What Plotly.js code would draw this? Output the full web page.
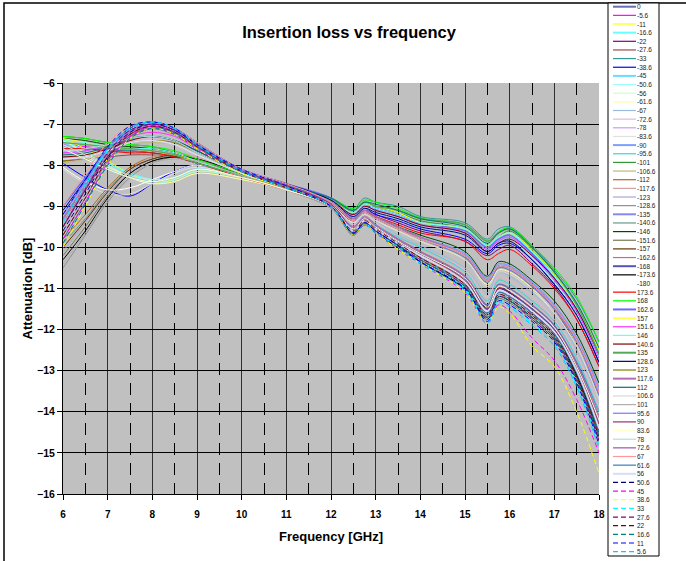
<!DOCTYPE html>
<html><head><meta charset="utf-8">
<script src="https://cdn.plot.ly/plotly-3.0.1.min.js"></script>
<style>html,body{margin:0;padding:0;background:#fff;}#chart{width:686px;height:561px;}</style>
</head><body><div id="chart"></div>
<script>
// Frequency points (GHz)
const freqGHz = [6, 6.5, 7, 7.5, 8, 8.5, 9, 10, 11, 12, 12.5, 12.75, 13, 13.5, 14, 15, 15.5, 15.75, 16, 16.5, 17, 17.5, 18];

// Series names (phase setting)
const angles = ["0","-5.6","-11","-16.6","-22","-27.6","-33","-38.6","-45","-50.6","-56","-61.6","-67","-72.6","-78","-83.6","-90","-95.6","-101","-106.6","-112","-117.6","-123","-128.6","-135","-140.6","-146","-151.6","-157","-162.6","-168","-173.6","-180","173.6","168","162.6","157","151.6","146","140.6","135","128.6","123","117.6","112","106.6","101","95.6","90","83.6","78","72.6","67","61.6","56","50.6","45","38.6","33","27.6","22","16.6","11","5.6"];

// Attenuation [dB] per series, one row per angle, values at freqGHz
const attenuationDB = [
[-9.3,-8.5,-7.7,-7.2,-7.05,-7.2,-7.55,-8.15,-8.5,-8.95,-9.5,-9.25,-9.45,-9.8,-10.1,-10.7,-11.4,-10.9,-11.0,-11.4,-11.9,-12.8,-14.0],
[-7.5,-7.55,-7.6,-7.6,-7.65,-7.75,-7.95,-8.25,-8.5,-8.85,-9.15,-8.95,-9.05,-9.2,-9.4,-9.6,-9.95,-9.8,-9.7,-10.15,-10.75,-11.5,-12.6],
[-7.35,-7.6,-7.9,-8.2,-8.4,-8.35,-8.15,-8.3,-8.55,-8.8,-9.15,-8.95,-9.0,-9.15,-9.4,-9.6,-10.0,-9.8,-9.7,-10.1,-10.7,-11.4,-12.5],
[-7.4,-7.65,-7.95,-8.2,-8.35,-8.3,-8.1,-8.3,-8.55,-8.85,-9.2,-8.95,-9.05,-9.2,-9.4,-9.55,-9.95,-9.75,-9.65,-10.1,-10.7,-11.5,-12.7],
[-7.6,-7.6,-7.65,-7.65,-7.7,-7.8,-7.95,-8.25,-8.55,-8.9,-9.3,-9.1,-9.2,-9.4,-9.6,-9.85,-10.2,-10.05,-9.95,-10.4,-10.95,-11.75,-12.9],
[-7.9,-7.85,-7.8,-7.75,-7.75,-7.8,-7.95,-8.3,-8.6,-8.95,-9.35,-9.15,-9.3,-9.55,-9.75,-10.2,-10.8,-10.45,-10.5,-10.9,-11.5,-12.4,-13.6],
[-7.55,-7.6,-7.6,-7.65,-7.7,-7.8,-7.95,-8.25,-8.5,-8.8,-9.05,-8.8,-8.9,-9.0,-9.25,-9.4,-9.8,-9.55,-9.5,-9.95,-10.55,-11.25,-12.3],
[-7.95,-8.3,-8.6,-8.75,-8.45,-8.15,-8.0,-8.3,-8.55,-8.9,-9.25,-9.05,-9.2,-9.35,-9.55,-9.8,-10.15,-9.95,-9.9,-10.3,-10.9,-11.6,-12.8],
[-7.45,-7.7,-8.0,-8.25,-8.4,-8.3,-8.1,-8.25,-8.5,-8.85,-9.2,-9.0,-9.1,-9.25,-9.45,-9.65,-10.05,-9.85,-9.75,-10.2,-10.8,-11.5,-12.6],
[-7.5,-7.75,-8.05,-8.3,-8.45,-8.35,-8.15,-8.3,-8.55,-8.9,-9.25,-9.05,-9.15,-9.3,-9.5,-9.7,-10.1,-9.9,-9.8,-10.25,-10.85,-11.6,-12.7],
[-7.55,-7.8,-8.05,-8.25,-8.35,-8.3,-8.1,-8.3,-8.6,-8.95,-9.35,-9.15,-9.3,-9.55,-9.8,-10.25,-10.85,-10.5,-10.55,-10.95,-11.5,-12.3,-13.5],
[-7.4,-7.7,-8.0,-8.3,-8.45,-8.4,-8.2,-8.35,-8.6,-8.95,-9.4,-9.2,-9.35,-9.6,-9.85,-10.3,-10.9,-10.55,-10.6,-11.0,-11.6,-12.4,-13.7],
[-7.65,-7.85,-8.1,-8.3,-8.4,-8.3,-8.1,-8.3,-8.6,-8.95,-9.45,-9.2,-9.35,-9.7,-9.95,-10.5,-11.1,-10.6,-10.7,-11.1,-11.6,-12.5,-13.7],
[-7.75,-7.7,-7.55,-7.4,-7.35,-7.45,-7.7,-8.15,-8.5,-8.95,-9.45,-9.25,-9.4,-9.75,-10.0,-10.55,-11.2,-10.7,-10.8,-11.2,-11.75,-12.6,-13.9],
[-7.85,-7.8,-7.65,-7.45,-7.4,-7.5,-7.75,-8.2,-8.5,-8.95,-9.55,-9.3,-9.5,-9.85,-10.15,-10.75,-11.45,-10.95,-11.05,-11.45,-11.95,-12.9,-14.2],
[-8.1,-8.45,-8.7,-8.7,-8.45,-8.2,-8.05,-8.3,-8.6,-9.0,-9.6,-9.35,-9.5,-9.9,-10.2,-10.8,-11.55,-11.05,-11.15,-11.55,-12.05,-13.0,-14.4],
[-7.7,-7.65,-7.5,-7.35,-7.3,-7.4,-7.65,-8.15,-8.5,-8.9,-9.35,-9.1,-9.25,-9.5,-9.75,-10.15,-10.75,-10.4,-10.45,-10.85,-11.4,-12.2,-13.4],
[-7.6,-7.6,-7.5,-7.35,-7.3,-7.4,-7.7,-8.2,-8.55,-9.0,-9.5,-9.3,-9.45,-9.75,-10.0,-10.6,-11.3,-10.8,-10.9,-11.3,-11.8,-12.7,-14.0],
[-7.3,-7.35,-7.45,-7.5,-7.55,-7.7,-7.9,-8.2,-8.5,-8.8,-9.1,-8.9,-9.0,-9.15,-9.35,-9.55,-9.95,-9.75,-9.6,-10.05,-10.65,-11.4,-12.5],
[-7.95,-7.85,-7.7,-7.5,-7.45,-7.5,-7.75,-8.2,-8.55,-9.0,-9.55,-9.3,-9.5,-9.85,-10.15,-10.8,-11.5,-11.0,-11.1,-11.5,-12.0,-12.95,-14.3],
[-9.8,-9.2,-8.55,-8.05,-7.8,-7.75,-7.85,-8.2,-8.55,-9.0,-9.6,-9.35,-9.55,-9.9,-10.25,-10.85,-11.6,-11.1,-11.2,-11.6,-12.1,-13.0,-14.5],
[-10.0,-9.35,-8.65,-8.1,-7.8,-7.7,-7.8,-8.2,-8.55,-8.95,-9.55,-9.3,-9.5,-9.85,-10.2,-10.8,-11.55,-11.05,-11.15,-11.55,-12.05,-13.0,-14.4],
[-10.1,-9.4,-8.7,-8.15,-7.85,-7.75,-7.85,-8.2,-8.55,-9.0,-9.6,-9.35,-9.55,-9.9,-10.25,-10.9,-11.6,-11.1,-11.2,-11.6,-12.1,-13.1,-14.5],
[-10.5,-9.7,-8.9,-8.3,-7.95,-7.8,-7.85,-8.2,-8.55,-9.0,-9.65,-9.4,-9.6,-9.95,-10.3,-10.95,-11.7,-11.2,-11.3,-11.7,-12.2,-13.2,-14.6],
[-9.2,-8.4,-7.65,-7.2,-7.05,-7.2,-7.55,-8.15,-8.5,-8.95,-9.55,-9.3,-9.5,-9.85,-10.15,-10.75,-11.5,-11.0,-11.1,-11.5,-12.0,-12.9,-14.2],
[-9.9,-9.3,-8.6,-8.1,-7.85,-7.8,-7.9,-8.25,-8.6,-9.05,-9.65,-9.4,-9.6,-9.95,-10.3,-10.9,-11.65,-11.15,-11.25,-11.65,-12.15,-13.1,-14.5],
[-7.35,-7.4,-7.5,-7.55,-7.6,-7.7,-7.9,-8.2,-8.55,-8.9,-9.3,-9.1,-9.25,-9.5,-9.7,-10.1,-10.7,-10.35,-10.4,-10.8,-11.3,-12.1,-13.3],
[-10.2,-9.5,-8.75,-8.2,-7.9,-7.8,-7.9,-8.25,-8.6,-9.05,-9.7,-9.45,-9.65,-10.0,-10.35,-11.0,-11.75,-11.25,-11.35,-11.75,-12.25,-13.2,-14.7],
[-10.0,-9.35,-8.65,-8.1,-7.85,-7.75,-7.85,-8.2,-8.55,-9.0,-9.65,-9.4,-9.6,-9.95,-10.3,-10.95,-11.7,-11.2,-11.3,-11.7,-12.2,-13.15,-14.6],
[-9.4,-8.55,-7.75,-7.25,-7.1,-7.25,-7.6,-8.15,-8.5,-8.95,-9.5,-9.25,-9.45,-9.8,-10.1,-10.7,-11.45,-10.95,-11.05,-11.45,-11.95,-12.85,-14.1],
[-9.5,-8.6,-7.8,-7.3,-7.1,-7.25,-7.6,-8.15,-8.5,-8.95,-9.55,-9.3,-9.5,-9.85,-10.15,-10.75,-11.5,-11.0,-11.1,-11.5,-12.0,-12.9,-14.2],
[-10.3,-9.6,-8.8,-8.2,-7.9,-7.8,-7.85,-8.2,-8.55,-9.0,-9.7,-9.45,-9.65,-10.0,-10.35,-11.0,-11.45,-11.0,-11.1,-11.6,-12.1,-13.1,-14.5],
[-8.05,-8.4,-8.6,-8.55,-8.35,-8.15,-8.0,-8.3,-8.6,-9.0,-9.6,-9.35,-9.55,-9.9,-10.2,-10.85,-11.55,-11.05,-11.15,-11.55,-12.05,-13.0,-14.4],
[-7.6,-7.6,-7.65,-7.7,-7.7,-7.8,-7.95,-8.3,-8.6,-8.95,-9.35,-9.15,-9.25,-9.45,-9.65,-9.85,-10.3,-10.15,-10.05,-10.45,-11.0,-11.75,-12.9],
[-7.3,-7.35,-7.45,-7.5,-7.55,-7.65,-7.85,-8.2,-8.5,-8.8,-9.05,-8.85,-8.9,-9.05,-9.28,-9.45,-9.85,-9.62,-9.52,-9.95,-10.5,-11.2,-12.3],
[-9.0,-8.3,-7.6,-7.15,-7.0,-7.15,-7.5,-8.1,-8.45,-8.8,-9.15,-8.95,-9.05,-9.2,-9.4,-9.6,-10.0,-9.8,-9.7,-10.15,-10.75,-11.5,-12.6],
[-7.35,-7.45,-7.55,-7.6,-7.65,-7.75,-7.9,-8.25,-8.5,-8.85,-9.15,-8.95,-9.0,-9.15,-9.4,-9.55,-9.95,-9.75,-9.65,-10.05,-10.65,-11.4,-12.5],
[-7.7,-7.65,-7.5,-7.3,-7.2,-7.3,-7.6,-8.15,-8.5,-8.85,-9.2,-9.0,-9.1,-9.25,-9.45,-9.65,-10.05,-9.85,-9.75,-10.2,-10.8,-11.55,-12.7],
[-7.4,-7.45,-7.55,-7.6,-7.6,-7.7,-7.9,-8.25,-8.5,-8.85,-9.15,-8.95,-9.05,-9.2,-9.4,-9.55,-9.95,-9.75,-9.65,-10.1,-10.7,-11.45,-12.55],
[-7.8,-7.75,-7.6,-7.4,-7.3,-7.4,-7.65,-8.15,-8.5,-8.85,-9.2,-9.0,-9.1,-9.25,-9.45,-9.65,-10.1,-9.9,-9.8,-10.2,-10.75,-11.5,-12.6],
[-7.45,-7.5,-7.55,-7.6,-7.65,-7.75,-7.95,-8.25,-8.55,-8.85,-9.1,-8.9,-9.0,-9.1,-9.3,-9.45,-9.85,-9.65,-9.55,-10.0,-10.6,-11.4,-12.6],
[-9.1,-8.35,-7.6,-7.1,-6.95,-7.1,-7.45,-8.1,-8.45,-8.85,-9.25,-9.05,-9.15,-9.3,-9.5,-9.7,-10.1,-9.9,-9.85,-10.3,-10.9,-11.65,-12.8],
[-7.9,-7.8,-7.65,-7.45,-7.4,-7.45,-7.7,-8.2,-8.55,-8.9,-9.35,-9.15,-9.3,-9.55,-9.8,-10.25,-10.85,-10.5,-10.55,-10.95,-11.5,-12.3,-13.5],
[-9.3,-8.5,-7.7,-7.2,-7.05,-7.2,-7.55,-8.15,-8.5,-8.9,-9.3,-9.1,-9.25,-9.5,-9.75,-10.2,-10.8,-10.45,-10.5,-10.9,-11.45,-12.25,-13.5],
[-7.75,-7.7,-7.55,-7.35,-7.3,-7.4,-7.65,-8.15,-8.5,-8.8,-9.1,-8.9,-8.95,-9.1,-9.3,-9.5,-9.9,-9.65,-9.55,-10.0,-10.6,-11.35,-12.45],
[-7.5,-7.75,-8.0,-8.25,-8.35,-8.3,-8.1,-8.3,-8.6,-8.95,-9.4,-9.2,-9.35,-9.6,-9.85,-10.3,-10.95,-10.6,-10.65,-11.05,-11.6,-12.4,-13.7],
[-10.4,-9.65,-8.85,-8.25,-7.95,-7.85,-7.9,-8.25,-8.6,-9.05,-9.65,-9.4,-9.6,-9.95,-10.3,-10.95,-11.7,-11.2,-11.3,-11.7,-12.2,-13.2,-14.7],
[-9.2,-8.4,-7.6,-7.15,-7.0,-7.15,-7.5,-8.1,-8.5,-8.9,-9.35,-9.15,-9.3,-9.55,-9.8,-10.25,-10.85,-10.5,-10.55,-10.95,-11.5,-12.3,-13.6],
[-9.5,-8.6,-7.8,-7.25,-7.05,-7.2,-7.55,-8.15,-8.5,-8.95,-9.55,-9.3,-9.5,-9.85,-10.15,-10.8,-11.5,-11.0,-11.1,-11.5,-12.0,-12.9,-14.3],
[-7.6,-7.85,-8.1,-8.3,-8.4,-8.3,-8.1,-8.3,-8.6,-9.0,-9.55,-9.3,-9.5,-9.85,-10.15,-10.75,-11.45,-10.95,-11.05,-11.45,-11.95,-12.9,-14.2],
[-7.65,-7.6,-7.5,-7.35,-7.3,-7.4,-7.7,-8.2,-8.55,-9.0,-9.6,-9.35,-9.55,-9.9,-10.2,-10.85,-11.55,-11.05,-11.15,-11.55,-12.05,-13.0,-14.4],
[-9.7,-8.8,-7.9,-7.3,-7.1,-7.2,-7.55,-8.15,-8.55,-9.0,-9.6,-9.35,-9.55,-9.9,-10.2,-10.85,-11.6,-11.1,-11.2,-11.6,-12.1,-13.0,-14.4],
[-9.0,-8.2,-7.45,-7.05,-6.95,-7.1,-7.45,-8.1,-8.45,-8.9,-9.35,-9.15,-9.3,-9.55,-9.8,-10.2,-10.8,-10.45,-10.5,-10.9,-11.45,-12.25,-13.5],
[-9.8,-8.9,-8.0,-7.35,-7.1,-7.2,-7.55,-8.15,-8.55,-9.0,-9.6,-9.35,-9.55,-9.9,-10.25,-10.9,-11.6,-11.1,-11.2,-11.6,-12.1,-13.05,-14.5],
[-7.85,-7.8,-7.65,-7.45,-7.4,-7.5,-7.75,-8.2,-8.55,-9.0,-9.6,-9.35,-9.55,-9.9,-10.2,-10.85,-11.55,-11.05,-11.15,-11.55,-12.05,-13.0,-14.4],
[-9.6,-8.7,-7.8,-7.2,-7.0,-7.15,-7.5,-8.15,-8.55,-9.0,-9.65,-9.4,-9.6,-9.95,-10.35,-11.0,-11.75,-11.2,-11.3,-11.7,-12.2,-13.2,-14.7],
[-9.8,-8.9,-7.95,-7.3,-7.05,-7.2,-7.55,-8.15,-8.55,-9.0,-9.7,-9.45,-9.65,-10.05,-10.4,-11.1,-11.85,-11.4,-11.55,-12.2,-12.75,-13.7,-15.0],
[-10.0,-9.0,-8.0,-7.35,-7.1,-7.25,-7.6,-8.2,-8.55,-9.0,-9.7,-9.45,-9.65,-10.05,-10.4,-11.1,-11.85,-11.45,-11.6,-12.4,-12.9,-14.0,-15.5],
[-9.4,-8.5,-7.65,-7.1,-6.95,-7.1,-7.5,-8.15,-8.55,-9.0,-9.65,-9.4,-9.6,-10.0,-10.35,-11.0,-11.8,-11.3,-11.4,-11.85,-12.35,-13.35,-14.8],
[-9.5,-8.6,-7.7,-7.15,-7.0,-7.15,-7.5,-8.15,-8.55,-9.0,-9.65,-9.4,-9.6,-9.95,-10.3,-10.95,-11.7,-11.2,-11.3,-11.75,-12.25,-13.25,-14.7],
[-9.7,-8.8,-7.85,-7.25,-7.05,-7.2,-7.55,-8.15,-8.55,-9.0,-9.6,-9.35,-9.55,-9.9,-10.25,-10.9,-11.65,-11.15,-11.25,-11.65,-12.15,-13.15,-14.6],
[-9.9,-8.95,-8.0,-7.35,-7.1,-7.2,-7.55,-8.15,-8.55,-9.0,-9.65,-9.4,-9.6,-9.95,-10.3,-10.95,-11.7,-11.2,-11.3,-11.7,-12.2,-13.2,-14.6],
[-9.2,-8.35,-7.55,-7.05,-6.95,-7.1,-7.5,-8.1,-8.5,-9.0,-9.65,-9.4,-9.6,-9.95,-10.35,-11.0,-11.8,-11.3,-11.4,-11.8,-12.3,-13.3,-14.8],
[-9.35,-8.45,-7.6,-7.1,-6.95,-7.1,-7.5,-8.15,-8.55,-9.0,-9.7,-9.45,-9.65,-10.0,-10.4,-11.05,-11.85,-11.35,-11.45,-11.9,-12.4,-13.4,-14.9]
];

// Styles
const lineColors = ["#6b6bb5","#ff00ff","#ffff00","#66ffff","#800080","#a04848","#339999","#0000ff","#66ddff","#99ffff","#ccffcc","#ffff99","#99bbdd","#e0b8d8","#cc99ff","#e0e0e0","#7f9fff","#33d6d6","#339933","#bbbb77","#b5651d","#d4a0a0","#a8a8d8","#909090","#8888ee","#669988","#004d00","#777755","#663300","#cc6699","#5555bb","#000000","#ffffff","#ff0000","#00ff00","#6b6bff","#ffff00","#ff33ff","#66ffff","#800000","#55aa55","#000080","#808000","#b070b0","#007777","#d8d8d8","#b0b0b0","#7777ff","#993366","#ffffcc","#b0e0e0","#9955aa","#ff9999","#2f7fbf","#d8dcf4","#000080","#ff00ff","#ffff00","#00ffff","#800080","#800000","#008080","#0000ff","#00ccff"];
const thickSeries = ["0","-16.6","-45","-90","-135","-168","162.6","135","117.6","56"];
const dashedSeries = ["50.6","45","38.6","33","27.6","22","16.6","11","5.6"];

const FONT = "Liberation Sans, Arial, Helvetica, sans-serif";
const L = 63, R = 87, T = 83, B = 67, W = 686, H = 561;
const plotW = W - L - R, plotH = H - T - B;
const px2x = px => (px - L) / plotW;
const py2y = py => (H - B - py) / plotH;

const traces = angles.map((name, i) => ({
  type: 'scatter', mode: 'lines', name: name,
  x: freqGHz, y: attenuationDB[i],
  line: {
    color: lineColors[i],
    width: thickSeries.includes(name) ? 1.4 : 1,
    dash: dashedSeries.includes(name) ? '5px,3px' : 'solid',
    shape: 'spline', smoothing: 1
  },
  showlegend: false, hoverinfo: 'skip'
}));

const shapes = [
  {type:'rect', xref:'paper', yref:'paper', x0:px2x(4), x1:px2x(700), y0:py2y(580), y1:py2y(3),
   line:{color:'#000', width:1.5}, fillcolor:'rgba(0,0,0,0)', layer:'above'},
  {type:'rect', xref:'paper', yref:'paper', x0:px2x(608), x1:px2x(659), y0:py2y(556), y1:py2y(3),
   line:{color:'#000', width:1}, fillcolor:'#fff', layer:'above'}
];
const annotations = [];
angles.forEach((name, i) => {
  const py = 6.7 + i * 8.65;
  shapes.push({type:'line', xref:'paper', yref:'paper', x0:px2x(613), x1:px2x(636), y0:py2y(py), y1:py2y(py),
    line:{color:lineColors[i], width: thickSeries.includes(name) ? 2 : 1.2,
      dash: dashedSeries.includes(name) ? '5px,3px' : 'solid'}, layer:'above'});
  annotations.push({xref:'paper', yref:'paper', x:px2x(636), y:py2y(py), xanchor:'left', yanchor:'middle',
    text:name, showarrow:false, font:{family:FONT, size:6.5, color:'#222'}, borderpad:0});
});

const layout = {
  width: W, height: H, autosize: false,
  margin: {l:L, r:R, t:T, b:B, pad:0},
  paper_bgcolor: '#ffffff', plot_bgcolor: '#c0c0c0',
  showlegend: false,
  title: {text:'Insertion loss vs frequency', font:{family:FONT, size:16.5, weight:700, color:'#000'},
    x: 349/W, xref:'container', xanchor:'center', y: 1 - 32/H, yref:'container', yanchor:'middle'},
  xaxis: {
    range:[6,18], tick0:6, dtick:1, showgrid:true, gridcolor:'#303030', gridwidth:1,
    minor:{dtick:0.5, tick0:6, showgrid:true, gridcolor:'#000', gridwidth:1, griddash:'12px,8px'},
    ticks:'outside', ticklen:5, tickcolor:'#000', tickwidth:1,
    showline:true, linecolor:'#000', linewidth:1, zeroline:false,
    tickfont:{family:FONT, size:10, weight:700, color:'#000'}, ticklabelstandoff:6,
    title:{text:'Frequency [GHz]', font:{family:FONT, size:13, weight:700, color:'#000'}, standoff:12}
  },
  yaxis: {
    range:[-16,-6], tick0:-16, dtick:1, showgrid:true, gridcolor:'#000', gridwidth:1,
    ticks:'outside', ticklen:5, tickcolor:'#000', tickwidth:1,
    showline:true, linecolor:'#000', linewidth:1, zeroline:false,
    tickfont:{family:FONT, size:10.5, weight:700, color:'#000'}, ticklabelstandoff:0,
    title:{text:'Attenuation [dB]', font:{family:FONT, size:13, weight:700, color:'#000'}, standoff:1}
  },
  shapes: shapes,
  annotations: annotations
};

Plotly.newPlot('chart', traces, layout, {staticPlot:true, displayModeBar:false});
</script>
</body></html>
